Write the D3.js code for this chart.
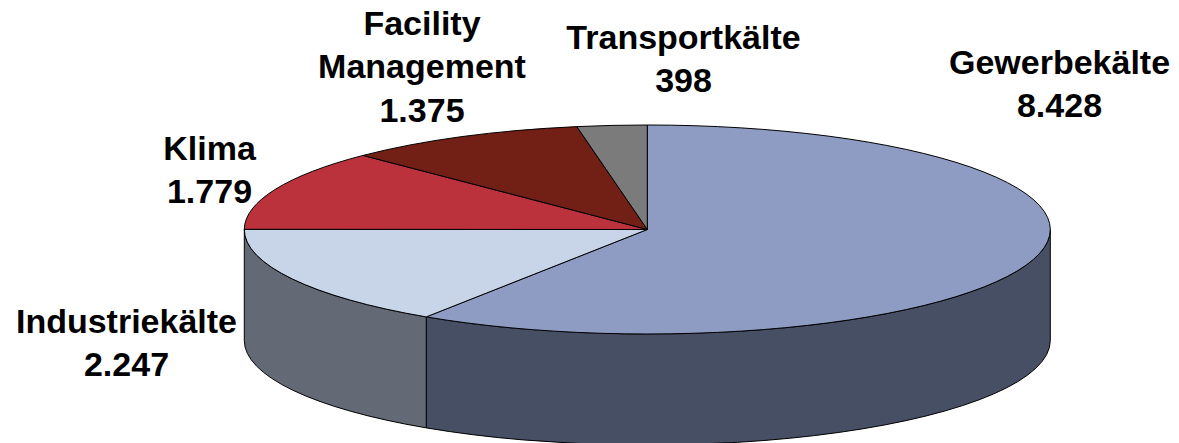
<!DOCTYPE html>
<html><head><meta charset="utf-8">
<script src="https://cdn.jsdelivr.net/npm/d3@7"></script>
<style>html,body{margin:0;padding:0;background:#fff;overflow:hidden}svg{display:block}</style>
</head><body><svg id="c" width="1179" height="443"></svg>
<script>
const categories = ["Gewerbekälte","Industriekälte","Klima","Facility Management","Transportkälte"];
const values = [8428,2247,1779,1375,398];
const valueLabels = ["8.428","2.247","1.779","1.375","398"];
const topColors = ["#8e9cc3","#c8d5e8","#bb323c","#722015","#7b7b7b"];
const sideColors = ["#474f64","#636a75","#5e1a1e","#39100a","#3e3e3e"];
const labelLines = [["Gewerbekälte","8.428"],["Industriekälte","2.247"],["Klima","1.779"],["Facility","Management","1.375"],["Transportkälte","398"]];
const labelX = [1059.5,126.5,209.5,422,683.5];
const labelY = [74,332.5,160,35,49];

const cx=647.3, cy=229.5, rx=403, ry=104.5, depth=111;
const svg=d3.select("#c");
const pie=d3.pie().sort(null).value(d=>d)(values);
const px=a=>cx+rx*Math.sin(a), py=a=>cy-ry*Math.cos(a);
const stroke="#000", sw=1;

pie.forEach((d,i)=>{
  const a0=Math.max(d.startAngle,Math.PI/2), a1=Math.min(d.endAngle,3*Math.PI/2);
  if(a1<=a0) return;
  const large=(a1-a0)>Math.PI?1:0;
  const p=`M${px(a0)},${py(a0)}A${rx},${ry} 0 ${large} 1 ${px(a1)},${py(a1)}L${px(a1)},${py(a1)+depth}A${rx},${ry} 0 ${large} 0 ${px(a0)},${py(a0)+depth}Z`;
  svg.append("path").attr("d",p).attr("fill",sideColors[i]).attr("stroke",stroke).attr("stroke-width",sw);
});
pie.forEach((d,i)=>{
  const large=(d.endAngle-d.startAngle)>Math.PI?1:0;
  const p=`M${cx},${cy}L${px(d.startAngle)},${py(d.startAngle)}A${rx},${ry} 0 ${large} 1 ${px(d.endAngle)},${py(d.endAngle)}Z`;
  svg.append("path").attr("d",p).attr("fill",topColors[i]).attr("stroke",stroke).attr("stroke-width",sw).attr("stroke-linejoin","round");
});
labelLines.forEach((lines,i)=>{
  const t=svg.append("text").attr("text-anchor","middle").attr("font-family","'Liberation Sans',Arial,sans-serif").attr("font-weight","bold").attr("font-size",34).attr("fill","#000");
  lines.forEach((s,j)=>t.append("tspan").attr("x",labelX[i]).attr("y",labelY[i]+j*43.3).text(s));
});
</script></body></html>
